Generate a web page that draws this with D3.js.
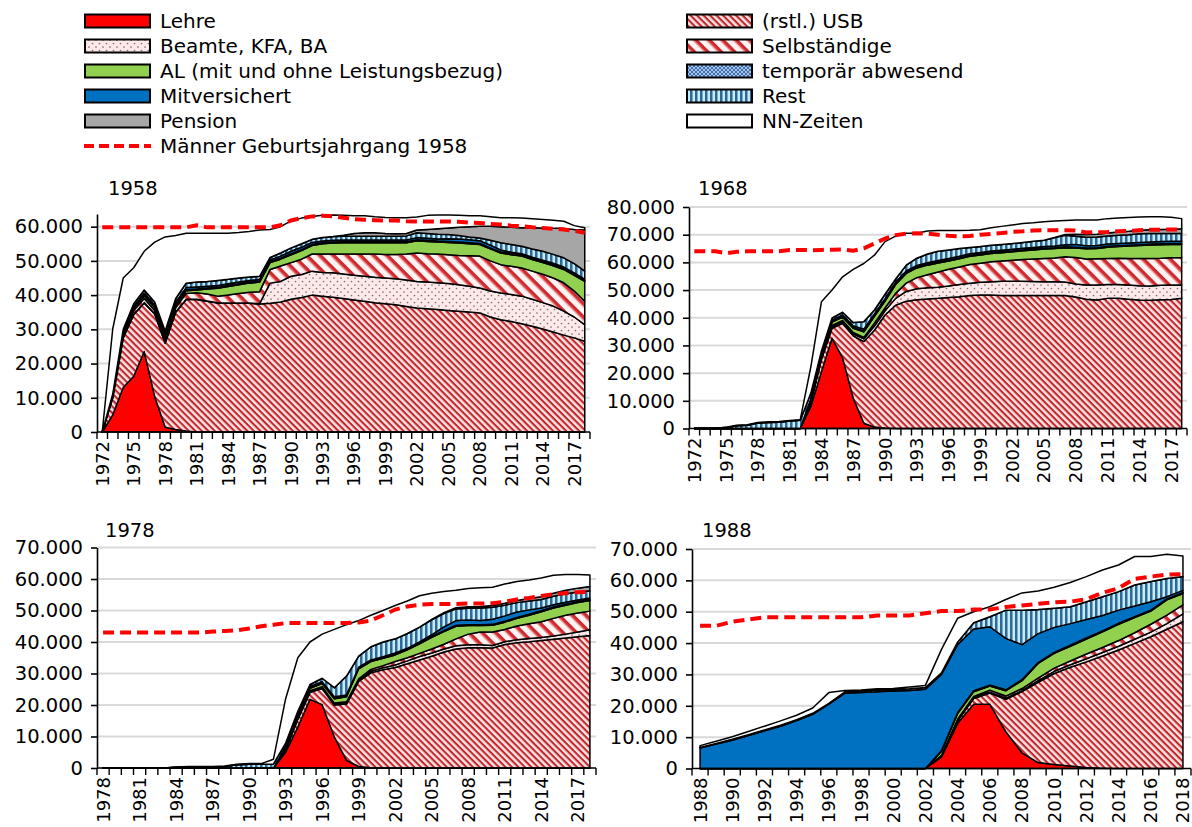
<!DOCTYPE html>
<html><head><meta charset="utf-8">
<script src="https://cdn.jsdelivr.net/npm/d3@7"></script>
<style>
body{margin:0;background:#fff}
svg{display:block}
</style>
</head><body>
<svg id="c" width="1192" height="827"></svg>
<script>
// ===================== DATA (values in thousands) =====================
const keys = ["lehre","usb","beamte","selbst","al","temp","mitv","rest","pension","nn"];
const seriesNames = {
  lehre:"Lehre", usb:"(rstl.) USB", beamte:"Beamte, KFA, BA", selbst:"Selbständige",
  al:"AL (mit und ohne Leistungsbezug)", temp:"temporär abwesend", mitv:"Mitversichert",
  rest:"Rest", pension:"Pension", nn:"NN-Zeiten"
};
const lineName = "Männer Geburtsjahrgang 1958";
const panelTitles = ["1958","1968","1978","1988"];

// ---------- Panel 1958 : 1972-2018 ----------
const years58 = d3.range(1972, 2019);
const p58_lehre = [0,5,13,16.3,23.5,10.4,1.4,0.7,
  0.3,0,0,0,0,0,0,0,0,0,
  0,0,0,0,0,0,0,0,0,0,
  0,0,0,0,0,0,0,0,0,0,
  0,0,0,0,0,0,0,0,0];
const p58_usb = [0,5,14.5,18,14.2,24.1,24.6,34.3,
  38.4,38.7,38.2,37.7,37.6,37.6,37.6,37.4,37.6,38,
  38.8,39.3,40,39.7,39.4,39,38.6,38.2,37.8,37.5,
  37.2,36.7,36.2,36,35.8,35.5,35.3,35.1,34.8,33.6,
  32.8,32.3,31.6,30.9,30.1,29.2,28.3,27.5,26.5];
const p58_beamte = [0,0.1,0.1,0.1,0.1,0.1,0.1,0.1,
  0.1,0.1,0.1,0.1,0.1,0.1,0.1,0.1,5.9,6,
  6.7,6.7,7,6.9,7.1,7.2,7.2,7.3,7.4,7.5,
  7.6,7.7,7.8,7.8,7.8,7.9,7.7,7.5,7.3,7.6,
  7.8,7.9,8.1,7.9,7.7,7.6,7.0,6.1,4.9];
const p58_selbst = [0,0.3,0.9,1.1,1.2,0.9,0.7,1.2,
  1.7,1.9,2.0,1.9,2.3,2.8,3.1,3.5,4.0,4.5,
  4.0,4.5,5,5.4,5.5,5.8,6.2,6.5,6.8,6.9,
  7.1,7.6,8.3,8.3,8.4,8.4,8.6,8.9,9.3,8.8,
  8.3,8.2,8.2,8.2,8.3,8.2,8.3,7.6,6.8];
const p58_al = [0,0.2,0.5,0.5,0.8,0.8,0.7,0.7,
  0.8,0.8,1.5,2.3,2.5,2.5,2.7,2.8,2.0,2.0,
  2.3,2.5,2.5,3.0,3.2,3.3,3.3,3.3,3.3,3.4,
  3.4,3.3,3.6,3.6,3.5,3.6,3.6,3.5,3.4,3.5,
  3.4,3.4,3.5,3.4,3.4,3.6,3.9,4.6,5.8];
const p58_temp = [0,0.1,0.2,0.3,0.3,0.3,0.3,0.3,
  0.3,0.3,0.3,0.3,0.3,0.3,0.3,0.3,0.3,0.3,
  0.3,0.3,0.3,0.3,0.3,0.3,0.3,0.3,0.3,0.3,
  0.3,0.3,0.3,0.3,0.3,0.3,0.3,0.3,0.3,0.3,
  0.3,0.3,0.3,0.3,0.3,0.3,0.3,0.3,0.3];
const p58_mitv = [0,0.2,0.3,0.4,0.5,0.5,0.6,0.6,
  0.6,0.6,0.5,0.5,0.5,0.5,0.5,0.5,0.5,0.6,
  0.7,0.7,0.6,0.5,0.5,0.5,0.5,0.5,0.5,0.5,
  0.5,0.5,0.6,0.6,0.6,0.8,0.9,0.9,0.8,0.8,
  0.6,0.4,0.4,0.4,0.4,0.4,0.4,0.4,0.4];
const p58_rest = [0,0.2,0.5,0.8,0.9,0.9,1.1,1.1,
  1.3,1.4,1.4,1.5,1.3,1.2,1.0,0.9,0.7,0.9,
  1.0,1.0,0.9,1.0,1.1,1.1,1.1,1.1,1.1,1.1,
  1.1,1.2,1.4,1.4,1.4,1.2,1.0,0.8,0.8,1.4,
  2.1,2.3,2.2,2.4,2.6,2.6,2.7,2.7,2.3];
const p58_pension = [0,0,0,0,0,0,0,0,
  0,0,0,0,0,0,0,0,0,0,
  0,0,0,0,0,0.3,0.8,1.0,1.0,0.8,
  0.7,0.7,0.8,1.2,1.6,1.9,2.4,3.0,3.4,4.1,
  4.7,5.0,5.4,6.2,6.8,7.6,8.6,10.0,12.0];
const p58_nn = [0,19,15,10.5,11.3,17.5,27.5,18.4,
  14.6,14.3,14.1,13.8,13.5,13.3,13.3,13.5,8.2,7.7,
  7.9,7.5,6.7,6.5,6.3,5.8,5.2,5.0,4.7,4.7,
  4.7,4.6,3.8,4.1,4.0,3.8,3.5,3.2,3.1,2.8,
  2.6,2.8,2.8,2.6,2.5,2.4,2.1,1.1,0.7];
const p58_line = [59.8,59.8,59.8,59.8,59.8,59.8,59.8,59.8,
  59.8,60.4,59.8,59.8,59.8,59.8,59.8,59.8,59.8,60.4,
  61.8,62.5,63,63.2,63.0,62.6,62.2,62.0,61.9,61.8,
  61.8,61.6,61.5,61.5,61.5,61.5,61.4,61.2,61.1,60.8,
  60.6,60.3,60.1,59.8,59.6,59.4,59.2,58.8,58.2];

// ---------- Panel 1968 : 1972-2018 ----------
const years68 = d3.range(1972, 2019);
const p68_lehre = [0,0,0,0,0,0,0,0,
  0,0,0,8,20.5,32.6,25.5,11,1.9,0.5,
  0.2,0,0,0,0,0,0,0,0,0,
  0,0,0,0,0,0,0,0,0,0,
  0,0,0,0,0,0,0,0,0];
const p68_usb = [0,0,0,0,0,0,0,0,
  0,0,0,1.5,4.5,3.6,12.5,22.5,29.5,35.0,
  40.8,44.5,46,46.5,46.8,47,47.3,47.6,48,48.2,
  48.2,48,48,48,48,48,48,48,47.5,46.7,
  46.4,47,47,46.7,46.4,46.3,46.5,46.6,47];
const p68_beamte = [0,0,0,0,0,0,0,0,
  0,0,0,0.1,0.2,0.5,0.5,0.7,1.0,1.5,
  1.5,2.5,3.5,4.0,4.0,4.0,4.2,4.4,4.5,4.6,
  4.8,5.2,5.2,5.2,5.1,5.0,5.0,4.9,4.7,5.1,
  5.4,5.0,5.0,5.1,5.2,5.2,5.2,5.2,4.8];
const p68_selbst = [0,0,0,0,0,0,0,0,
  0,0,0,0.2,0.3,0.5,0.5,0.5,0.5,1.0,
  1.0,1.8,3.0,4.0,4.7,5.5,6.0,6.3,6.7,6.9,
  7.2,7.3,7.6,7.8,8.1,8.4,8.6,9.1,9.6,9.4,
  9.5,9.4,9.5,9.6,9.8,9.9,9.8,9.9,10.0];
const p68_al = [0,0,0,0,0,0,0,0,
  0,0,0,0.5,0.8,1.2,1.2,1.5,2.0,2.5,
  2.5,3.2,3.5,3.5,3.5,3.3,3.0,3.0,3.0,3.0,
  3.0,3.0,3.0,3.2,3.3,3.4,3.4,3.3,3.4,3.7,
  3.7,4.1,4.2,4.5,4.7,4.9,4.9,4.8,4.7];
const p68_temp = [0,0,0,0,0,0,0,0,
  0,0,0,0.2,0.3,0.3,0.3,0.3,0.3,0.3,
  0.3,0.3,0.3,0.3,0.3,0.3,0.3,0.3,0.3,0.3,
  0.3,0.3,0.3,0.3,0.3,0.3,0.3,0.3,0.3,0.3,
  0.3,0.3,0.3,0.3,0.3,0.3,0.3,0.3,0.3];
const p68_mitv = [0,0,0,0,0,0,0,0,
  0,0,0,0.3,0.5,0.4,0.5,0.6,0.7,0.6,
  0.6,0.6,0.6,0.6,0.6,0.6,0.6,0.6,0.6,0.6,
  0.6,0.6,0.6,0.6,0.6,0.6,0.6,0.8,1.0,0.8,
  0.8,0.8,0.8,0.8,0.8,0.8,0.8,0.8,0.8];
const p68_rest = [0,0,0,0.3,1.0,1.2,2.0,2.2,
  2.3,2.7,3.0,2.0,0.9,0.8,1.0,1.2,2.7,1.4,
  1.6,1.1,2.1,2.6,3.1,3.3,3.1,2.8,2.3,2.1,
  2.1,2.1,2.1,2.1,2.2,2.3,3.1,3.4,2.9,3.1,
  3.1,2.9,3.0,3.0,3.1,3.0,2.9,2.8,2.8];
const p68_pension = [0,0,0,0,0,0,0,0,
  0,0,0,0,0,0,0,0,0,0,
  0,0,0,0,0,0,0,0,0,0,
  0,0,0,0,0,0,0,0.3,0.8,1.0,
  1.0,1.1,1.2,1.2,1.3,1.4,1.5,1.6,1.7];
const p68_nn = [0,0,0,0.2,0.2,0.2,0.2,0.2,
  0.2,0.2,0.2,9.5,17.8,10.1,12.8,19.2,21.0,19.8,
  19.0,15.5,11.5,9.0,8.3,7.5,7.0,6.5,6.2,6.1,
  6.3,6.5,6.7,6.8,6.7,6.7,5.9,5.0,5.1,5.2,
  5.1,5.2,5.0,5.0,4.8,4.7,4.6,4.3,3.7];
const p68_line = [64,64,64,63.3,63.8,64,64,64,
  64,64.5,64.5,64.4,64.5,64.6,64.7,64.2,65.1,66.8,
  68.6,69.8,70.4,70.5,70.4,70.0,69.6,69.4,69.5,70,
  70.3,70.6,71,71.2,71.5,71.6,71.6,71.6,71.5,70.8,
  70.9,71.0,71.2,71.4,71.6,71.8,71.8,71.9,71.9];

// ---------- Panel 1978 : 1978-2018 ----------
const years78 = d3.range(1978, 2019);
const p78_lehre = [0,0,
  0,0,0,0,0,0,0,0,0,0,
  0,0,0,5.1,13,21.8,20.1,9.9,2.4,0.5,
  0.1,0,0,0,0,0,0,0,0,0,
  0,0,0,0,0,0,0,0,0];
const p78_usb = [0,0,
  0,0,0,0,0,0,0,0,0,0,
  0,0,0,0.7,2.5,2.2,5.1,10.1,17.9,27.0,
  30.1,31.2,31.9,33.1,34.3,35.5,36.8,37.8,38.2,38.2,
  38.1,39.2,39.8,40.1,40.5,40.9,41.3,41.7,42.1];
const p78_beamte = [0,0,
  0,0,0,0,0,0,0,0,0,0,
  0,0,0,0.1,0.2,0.3,0.3,0.3,0.3,0.4,
  0.5,0.6,0.8,0.9,1.1,1.0,1.0,1.0,0.9,0.9,
  0.8,0.9,0.9,1.0,0.9,1.0,1.2,1.5,1.8];
const p78_selbst = [0,0,
  0,0,0,0,0,0,0,0,0,0,
  0,0,0,0.1,0.2,0.2,0.3,0.3,0.4,0.4,
  0.6,0.7,1.1,1.0,1.0,1.3,1.5,2.2,3.4,4.1,
  4.3,3.9,4.4,4.7,5.0,5.6,6.0,6.0,5.9];
const p78_al = [0,0,
  0,0,0,0,0,0,0,0,0,0,
  0,0,0,0.3,0.6,0.8,1.0,1.4,1.6,3.2,
  2.5,2.3,2.1,2.5,3.0,3.7,4.0,4.0,2.7,2.0,
  2.1,2.3,2.4,2.7,3.2,3.3,3.2,3.3,3.4];
const p78_temp = [0,0,
  0,0,0,0,0,0,0,0,0,0,
  0,0,0,0.3,0.3,0.3,0.3,0.3,0.3,0.3,
  0.3,0.3,0.3,0.3,0.3,0.3,0.3,0.3,0.3,0.3,
  0.3,0.3,0.3,0.3,0.3,0.3,0.3,0.3,0.3];
const p78_mitv = [0,0,
  0,0,0,0,0,0,0,0,0,0,
  0,0,0,0.3,0.3,0.3,0.3,0.3,0.3,0.2,
  0.2,0.2,0.3,0.2,0.3,0.5,1.2,1.5,1.5,1.3,
  1.6,1.7,1.7,1.4,0.9,0.7,0.6,0.5,0.5];
const p78_rest = [0,0,
  0,0,0,0,0.2,0.4,0.4,0.4,0.5,1.0,
  1.2,1.2,1.3,1.0,0.9,0.6,1.1,2.9,6.0,3.5,
  4.2,4.7,4.5,4.7,4.7,4.7,4.2,3.7,3.7,4.0,
  3.8,3.4,3.0,2.8,2.7,2.7,2.7,2.6,2.3];
const p78_pension = [0,0,
  0,0,0,0,0,0,0,0,0,0,
  0,0,0,0,0,0,0,0,0,0,
  0,0,0,0,0,0.2,0.3,0.4,0.5,0.5,
  0.6,0.6,0.7,0.8,0.9,1.0,1.1,1.2,1.3];
const p78_nn = [0,0,
  0,0,0,0,0.1,0.1,0.1,0.1,0.1,0.2,
  0.2,0.2,1.5,14.1,17,13.5,14,18.5,16.3,11.3,
  10.0,10.0,10.6,10.3,10.0,8.3,6.7,5.5,5.8,5.9,
  5.8,6.1,6.0,5.9,5.9,5.7,5.0,4.3,3.7];
const p78_line = [43,43,
  43,43,43,43,43,43,43,43.3,43.5,43.7,
  44.3,45,45.5,46,46,46,46,46,46,46.2,
  46.8,48.5,50.3,51.3,51.8,52.1,52.1,52.1,52.2,52.2,
  52.3,52.8,53.5,54,54.6,55.2,55.5,55.8,55.9];

// ---------- Panel 1988 : 1988-2018 ----------
const years88 = d3.range(1988, 2019);
const p88_lehre = [0,0,
  0,0,0,0,0,0,0,0,0,0,
  0,0,0,3.7,14.4,20.5,20.5,11.7,5.0,1.9,
  1.3,0.8,0.3,0.1,0,0,0,0,0];
const p88_usb = [0,0,
  0,0,0,0,0,0,0,0,0,0,
  0,0,0,0.3,0.8,1.8,3.6,10.4,19.5,25.6,
  29.0,31.5,33.7,35.8,37.8,39.9,42.0,44.4,46.8];
const p88_beamte = [0,0,
  0,0,0,0,0,0,0,0,0,0,
  0,0,0,0.1,0.2,0.3,0.3,0.3,0.3,0.5,
  0.7,0.8,1.0,1.1,1.2,1.3,1.5,1.8,2.5];
const p88_selbst = [0,0,
  0,0,0,0,0,0,0,0,0,0,
  0,0,0,0.1,0.3,0.4,0.6,0.7,0.7,0.8,
  1.0,1.2,1.5,1.6,1.8,2.1,2.5,2.7,2.9];
const p88_al = [0,0,
  0,0,0,0,0,0,0,0,0,0,
  0,0,0,1.3,1.8,1.5,1.3,1.7,2.5,4.7,
  4.7,4.7,4.8,5.0,5.2,4.8,4.2,4.9,3.6];
const p88_temp = [0,0,
  0,0,0,0,0,0,0,0,0,0,
  0,0,0,0.2,0.3,0.3,0.3,0.3,0.3,0.3,
  0.3,0.3,0.3,0.3,0.3,0.3,0.3,0.3,0.3];
const p88_mitv = [6.5,7.8,
  9.0,10.5,12.0,13.5,15.3,17.3,20.5,24,24.2,24.5,
  24.7,24.9,25.3,24.3,21.7,19.7,18.6,16.4,11.2,9.2,
  8.0,6.9,5.9,4.9,4.2,3.4,2.7,0.7,0.7];
const p88_rest = [0.2,0.2,
  0.3,0.3,0.3,0.3,0.3,0.3,0.3,0.4,0.5,0.5,
  0.5,0.5,0.5,0.5,0.8,2.0,3.2,9.0,11.0,7.7,
  6.1,5.4,5.7,6.0,5.9,6.7,6.4,5.8,4.4];
const p88_pension = [0,0,
  0,0,0,0,0,0,0,0,0,0,
  0,0,0,0,0,0,0,0,0,0,
  0,0,0,0,0,0,0,0,0];
const p88_nn = [0.6,0.7,
  0.8,1.0,1.2,1.4,1.4,1.7,3.4,0.5,0.3,0.4,
  0.3,0.6,0.7,7.5,7.6,3.5,3.2,3.4,5.5,5.9,
  6.7,7.7,8.0,8.5,8.5,9.1,8.0,7.7,6.6];
const p88_line = [45.5,45.5,
  46.8,47.5,48.2,48.2,48.2,48.2,48.2,48.2,48.2,48.8,
  48.8,48.8,49.5,50.2,50.2,50.7,50.7,51.5,52,52.5,
  53,53.2,54,56,57.5,60.5,61.2,61.8,62];

// ---------- Tick labels ----------
const yTicks58 = [0,10000,20000,30000,40000,50000,60000];
const yTicks68 = [0,10000,20000,30000,40000,50000,60000,70000,80000];
const yTicks78 = [0,10000,20000,30000,40000,50000,60000,70000];
const yTicks88 = [0,10000,20000,30000,40000,50000,60000,70000];
const xLabels58 = [1972,1975,1978,1981,1984,1987,1990,1993,1996,1999,2002,2005,2008,2011,2014,2017];
const xLabels68 = [1972,1975,1978,1981,1984,1987,1990,1993,1996,1999,2002,2005,2008,2011,2014,2017];
const xLabels78 = [1978,1981,1984,1987,1990,1993,1996,1999,2002,2005,2008,2011,2014,2017];
const xLabels88 = [1988,1990,1992,1994,1996,1998,2000,2002,2004,2006,2008,2010,2012,2014,2016,2018];

// ===================== RENDER =====================
const FONT = '"DejaVu Sans", sans-serif';
const svg = d3.select("#c");
const defs = svg.append("defs");

// patterns
const pU = defs.append("pattern").attr("id","pUsb").attr("patternUnits","userSpaceOnUse")
  .attr("width",4.6).attr("height",4.6).attr("patternTransform","rotate(45)");
pU.append("rect").attr("width",4.6).attr("height",4.6).attr("fill","#fbe3e3");
pU.append("rect").attr("width",4.6).attr("height",2.1).attr("fill","#c0282d");

const pS = defs.append("pattern").attr("id","pSelb").attr("patternUnits","userSpaceOnUse")
  .attr("width",9.5).attr("height",9.5).attr("patternTransform","rotate(45)");
pS.append("rect").attr("width",9.5).attr("height",9.5).attr("fill","#fff4f4");
pS.append("rect").attr("width",9.5).attr("height",3.6).attr("fill","#d02a2f");
pS.append("rect").attr("y",3.6).attr("width",9.5).attr("height",1.2).attr("fill","#f2b8b8");

const pB = defs.append("pattern").attr("id","pBeamte").attr("patternUnits","userSpaceOnUse")
  .attr("width",7).attr("height",7);
pB.append("rect").attr("width",7).attr("height",7).attr("fill","#fde9e9");
pB.append("circle").attr("cx",1.5).attr("cy",1.5).attr("r",0.85).attr("fill","#8a6c6c");
pB.append("circle").attr("cx",5).attr("cy",5).attr("r",0.85).attr("fill","#8a6c6c");

const pT = defs.append("pattern").attr("id","pTemp").attr("patternUnits","userSpaceOnUse")
  .attr("width",4).attr("height",4);
pT.append("rect").attr("width",4).attr("height",4).attr("fill","#a8c6ea");
pT.append("path").attr("d","M0,0L4,4M4,0L0,4").attr("stroke","#3464a8").attr("stroke-width",0.9);

const pR = defs.append("pattern").attr("id","pRest").attr("patternUnits","userSpaceOnUse")
  .attr("width",5).attr("height",5);
pR.append("rect").attr("width",5).attr("height",5).attr("fill","#c4ecfb");
pR.append("rect").attr("width",2.5).attr("height",5).attr("fill","#2f6796");

const fills = {lehre:"#ff0000", usb:"url(#pUsb)", beamte:"url(#pBeamte)", selbst:"url(#pSelb)",
  al:"#92d050", temp:"url(#pTemp)", mitv:"#0070c0", rest:"url(#pRest)", pension:"#a6a6a6", nn:"#ffffff"};

const de = d3.formatLocale({decimal:",", thousands:".", grouping:[3], currency:["","€"]});
const fmt = de.format(",d");

const panels = [
  {title:panelTitles[0], years:years58, s:{lehre:p58_lehre,usb:p58_usb,beamte:p58_beamte,selbst:p58_selbst,al:p58_al,temp:p58_temp,mitv:p58_mitv,rest:p58_rest,pension:p58_pension,nn:p58_nn},
   line:p58_line, yTicks:yTicks58, xLabels:xLabels58, yMax:63700, x0:97, x1:590, yb:432, yt:214, tx:108, ty:195},
  {title:panelTitles[1], years:years68, s:{lehre:p68_lehre,usb:p68_usb,beamte:p68_beamte,selbst:p68_selbst,al:p68_al,temp:p68_temp,mitv:p68_mitv,rest:p68_rest,pension:p68_pension,nn:p68_nn},
   line:p68_line, yTicks:yTicks68, xLabels:xLabels68, yMax:80000, x0:689, x1:1187, yb:428.5, yt:207, tx:698, ty:195},
  {title:panelTitles[2], years:years78, s:{lehre:p78_lehre,usb:p78_usb,beamte:p78_beamte,selbst:p78_selbst,al:p78_al,temp:p78_temp,mitv:p78_mitv,rest:p78_rest,pension:p78_pension,nn:p78_nn},
   line:p78_line, yTicks:yTicks78, xLabels:xLabels78, yMax:70000, x0:97, x1:596, yb:768, yt:547.5, tx:105, ty:537},
  {title:panelTitles[3], years:years88, s:{lehre:p88_lehre,usb:p88_usb,beamte:p88_beamte,selbst:p88_selbst,al:p88_al,temp:p88_temp,mitv:p88_mitv,rest:p88_rest,pension:p88_pension,nn:p88_nn},
   line:p88_line, yTicks:yTicks88, xLabels:xLabels88, yMax:70000, x0:692, x1:1191, yb:768.5, yt:549, tx:702, ty:537}
];

panels.forEach(cfg => {
  const g = svg.append("g");
  const x = d3.scaleBand().domain(cfg.years).range([cfg.x0, cfg.x1]);
  const cx = yr => x(yr) + x.bandwidth()/2;
  const y = d3.scaleLinear().domain([0, cfg.yMax]).range([cfg.yb, cfg.yt]);

  // gridlines
  g.append("g").selectAll("line").data(cfg.yTicks.filter(v => v > 0)).join("line")
    .attr("x1", cfg.x0).attr("x2", cfg.x1).attr("y1", d => y(d)).attr("y2", d => y(d))
    .attr("stroke", "#d9d9d9").attr("stroke-width", 2);

  // stacked areas
  const table = cfg.years.map((yr, i) => {
    const r = {year: yr};
    keys.forEach(k => r[k] = cfg.s[k][i] * 1000);
    return r;
  });
  const stacked = d3.stack().keys(keys)(table);
  const area = d3.area().x(d => cx(d.data.year)).y0(d => y(d[0])).y1(d => y(d[1]));
  g.append("g").selectAll("path").data(stacked).join("path")
    .attr("d", area).attr("fill", d => fills[d.key])
    .attr("stroke", "#000").attr("stroke-width", 1.5).attr("stroke-linejoin", "round");

  // dashed cohort line
  const line = d3.line().x((d, i) => cx(cfg.years[i])).y(d => y(d * 1000));
  g.append("path").attr("d", line(cfg.line)).attr("fill", "none")
    .attr("stroke", "#ff0000").attr("stroke-width", 4).attr("stroke-dasharray", "11,6");

  // y axis
  const ya = g.append("g").attr("transform", `translate(${cfg.x0},0)`)
    .call(d3.axisLeft(y).tickValues(cfg.yTicks).tickFormat(fmt).tickSize(6).tickSizeOuter(0).tickPadding(8));
  ya.select(".domain").attr("stroke", "#000").attr("stroke-width", 1.6);
  ya.selectAll(".tick line").attr("stroke", "#000").attr("stroke-width", 1.6);
  ya.selectAll(".tick text").attr("font-family", FONT).attr("font-size", 19.5).attr("fill", "#000");

  // x axis line + ticks at category boundaries
  const xa = g.append("g");
  xa.append("line").attr("x1", cfg.x0).attr("x2", cfg.x1).attr("y1", cfg.yb).attr("y2", cfg.yb)
    .attr("stroke", "#000").attr("stroke-width", 1.6);
  const bounds = cfg.years.map(yr => x(yr)).concat([cfg.x1]);
  xa.selectAll("line.t").data(bounds).join("line").attr("class", "t")
    .attr("x1", d => d).attr("x2", d => d).attr("y1", cfg.yb).attr("y2", cfg.yb + 7)
    .attr("stroke", "#000").attr("stroke-width", 1.4);
  xa.selectAll("text").data(cfg.xLabels).join("text")
    .attr("transform", d => `translate(${cx(d)},${cfg.yb + 9}) rotate(-90)`)
    .attr("text-anchor", "end").attr("dy", "0.36em")
    .attr("font-family", FONT).attr("font-size", 18).attr("fill", "#000")
    .text(d => d);

  // title
  g.append("text").attr("x", cfg.tx).attr("y", cfg.ty).attr("font-family", FONT)
    .attr("font-size", 19.5).attr("fill", "#000").text(cfg.title);
});

// legend
const legLeft = ["lehre","beamte","al","mitv","pension"];
const legRight = ["usb","selbst","temp","rest","nn"];
const leg = svg.append("g");
function legItem(k, sx, tx, cy) {
  leg.append("rect").attr("x", sx).attr("y", cy - 6.5).attr("width", 65).attr("height", 13)
    .attr("fill", fills[k]).attr("stroke", "#000").attr("stroke-width", 2);
  leg.append("text").attr("x", tx).attr("y", cy).attr("dy", "0.36em")
    .attr("font-family", FONT).attr("font-size", 20).attr("fill", "#000").text(seriesNames[k]);
}
legLeft.forEach((k, i) => legItem(k, 85, 160, 21 + i * 25));
legRight.forEach((k, i) => legItem(k, 687, 762, 21 + i * 25));
leg.append("line").attr("x1", 84).attr("x2", 151).attr("y1", 146).attr("y2", 146)
  .attr("stroke", "#ff0000").attr("stroke-width", 4).attr("stroke-dasharray", "10,5");
leg.append("text").attr("x", 160).attr("y", 146).attr("dy", "0.36em")
  .attr("font-family", FONT).attr("font-size", 20).attr("fill", "#000").text(lineName);
</script>
</body></html>
